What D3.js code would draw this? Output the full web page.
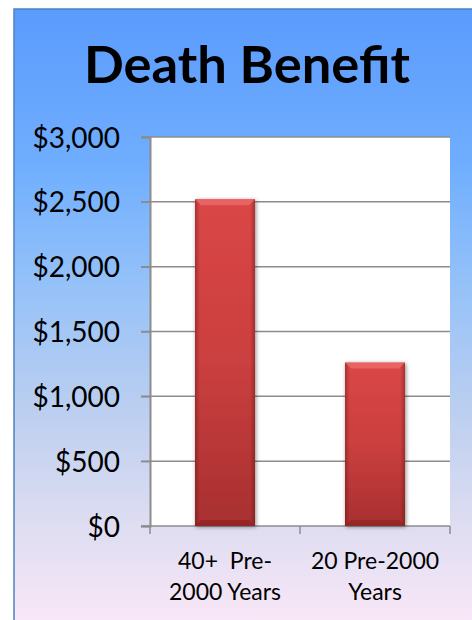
<!DOCTYPE html>
<html>
<head>
<meta charset="utf-8">
<script src="https://cdn.jsdelivr.net/npm/d3@7/dist/d3.min.js"></script>
<style>
  html, body { margin: 0; padding: 0; background: #ffffff; }
  svg { display: block; }
  text { font-family: Lato, "Open Sans", sans-serif; fill: #000; }
</style>
</head>
<body>
<svg id="chart" width="472" height="620"></svg>
<script>
// Chart data
const title = "Death Benefit";
const categories = [["40+  Pre-", "2000 Years"], ["20 Pre-2000", "Years"]];
const values = [2520, 1260];
const yTicks = [0, 500, 1000, 1500, 2000, 2500, 3000];

const W = 472, H = 620;
const svg = d3.select("#chart");
const defs = svg.append("defs");

// Panel background: blue fading to pale pink
const bg = defs.append("linearGradient").attr("id", "bg")
  .attr("x1", 0).attr("y1", 0).attr("x2", 0).attr("y2", 1);
[["0%", "#5b9bfd"], ["25%", "#6faefe"], ["45%", "#96c2f8"], ["65%", "#bccff0"],
 ["82%", "#dcdcf1"], ["100%", "#fbe8f8"]]
  .forEach(([o, c]) => bg.append("stop").attr("offset", o).attr("stop-color", c));

// Bar body gradient
const bar = defs.append("linearGradient").attr("id", "barFill")
  .attr("x1", 0).attr("y1", 0).attr("x2", 0).attr("y2", 1);
[["0%", "#da4646"], ["50%", "#cb3f3f"], ["100%", "#a82f2f"]]
  .forEach(([o, c]) => bar.append("stop").attr("offset", o).attr("stop-color", c));

const side = defs.append("linearGradient").attr("id", "barSide")
  .attr("x1", 0).attr("y1", 0).attr("x2", 1).attr("y2", 0);
[["0%", "rgba(80,10,10,0.35)"], ["8%", "rgba(80,10,10,0)"], ["92%", "rgba(80,10,10,0)"], ["100%", "rgba(80,10,10,0.35)"]]
  .forEach(([o, c]) => side.append("stop").attr("offset", o).attr("stop-color", c));

const shadow = defs.append("filter").attr("id", "shadow")
  .attr("x", "-30%").attr("y", "-10%").attr("width", "160%").attr("height", "120%");
shadow.append("feDropShadow").attr("dx", 1).attr("dy", 1).attr("stdDeviation", 2.2)
  .attr("flood-color", "#000").attr("flood-opacity", 0.45);

// Outer panel
svg.append("rect").attr("x", 14).attr("y", 9).attr("width", W).attr("height", H)
  .attr("fill", "url(#bg)").attr("stroke", "#4f81bd").attr("stroke-width", 1.5);

// Title, sized to its measured width
const t = svg.append("text").attr("x", 247).attr("y", 83)
  .attr("text-anchor", "middle").attr("font-weight", 700).attr("font-size", 50)
  .text(title);
const tw = t.node().getComputedTextLength();
t.attr("font-size", 50 * 326 / tw);

// Plot area
const plot = { left: 150, right: 450, top: 137, bottom: 526 };
const x = d3.scaleBand().domain(d3.range(categories.length))
  .range([plot.left, plot.right]).paddingInner(0.6).paddingOuter(0.3);
const xOuter = d3.scaleBand().domain(d3.range(categories.length))
  .range([plot.left, plot.right]);
const y = d3.scaleLinear().domain([0, 3000]).range([plot.bottom, plot.top]);

svg.append("rect").attr("x", plot.left).attr("y", plot.top)
  .attr("width", plot.right - plot.left).attr("height", plot.bottom - plot.top)
  .attr("fill", "#ffffff");

// Gridlines
svg.append("g").selectAll("line").data(yTicks).join("line")
  .attr("x1", plot.left - 9).attr("x2", plot.right)
  .attr("y1", d => y(d)).attr("y2", d => y(d))
  .attr("stroke", "#8c8c8c").attr("stroke-width", 1.5);

// Y axis
const yAxis = svg.append("g").attr("transform", `translate(${plot.left},0)`)
  .call(d3.axisLeft(y).tickValues(yTicks).tickSize(9).tickPadding(21)
    .tickFormat(d => "$" + d3.format(",")(d)));
yAxis.select(".domain").attr("stroke", "#8c8c8c").attr("stroke-width", 2);
yAxis.selectAll(".tick line").attr("stroke", "#8c8c8c").attr("stroke-width", 1.5);
yAxis.selectAll(".tick text").attr("font-size", 28).attr("fill", "#000")
  .attr("font-family", "Lato, sans-serif").attr("dy", "0.36em");

// X axis ticks at band edges
const edges = d3.range(categories.length).map(i => xOuter(i)).concat([plot.right]);
svg.append("g").selectAll("line").data(edges).join("line")
  .attr("x1", d => d).attr("x2", d => d)
  .attr("y1", plot.bottom).attr("y2", plot.bottom + 8)
  .attr("stroke", "#8c8c8c").attr("stroke-width", 1.5);

// Bars with bevel
const bars = svg.append("g").selectAll("g").data(values).join("g");
bars.append("rect")
  .attr("x", (d, i) => x(i)).attr("y", d => y(d))
  .attr("width", x.bandwidth()).attr("height", d => y(0) - y(d))
  .attr("fill", "url(#barFill)").attr("filter", "url(#shadow)");
bars.append("rect")
  .attr("x", (d, i) => x(i)).attr("y", d => y(d))
  .attr("width", x.bandwidth()).attr("height", d => y(0) - y(d))
  .attr("fill", "url(#barSide)");
const bev = 6;
bars.append("path")
  .attr("d", (d, i) => {
    const x0 = x(i), x1 = x(i) + x.bandwidth(), y0 = y(d);
    return `M${x0},${y0}L${x1},${y0}L${x1 - bev},${y0 + bev}L${x0 + bev},${y0 + bev}Z`;
  })
  .attr("fill", "#ee6a6a").attr("opacity", 0.8);
bars.append("path")
  .attr("d", (d, i) => {
    const x0 = x(i), x1 = x(i) + x.bandwidth(), yb = y(0);
    return `M${x0},${yb}L${x1},${yb}L${x1 - bev},${yb - bev}L${x0 + bev},${yb - bev}Z`;
  })
  .attr("fill", "#8e2424").attr("opacity", 0.7);

// Category labels
const labels = svg.append("g").selectAll("text").data(categories).join("text")
  .attr("text-anchor", "middle").attr("font-size", 23)
  .attr("transform", (d, i) => `translate(${xOuter(i) + xOuter.bandwidth() / 2},0)`)
  .style("white-space", "pre");
labels.selectAll("tspan").data(d => d).join("tspan")
  .attr("x", 0).attr("y", (d, j) => 569 + j * 31)
  .text(d => d);
</script>
</body>
</html>
